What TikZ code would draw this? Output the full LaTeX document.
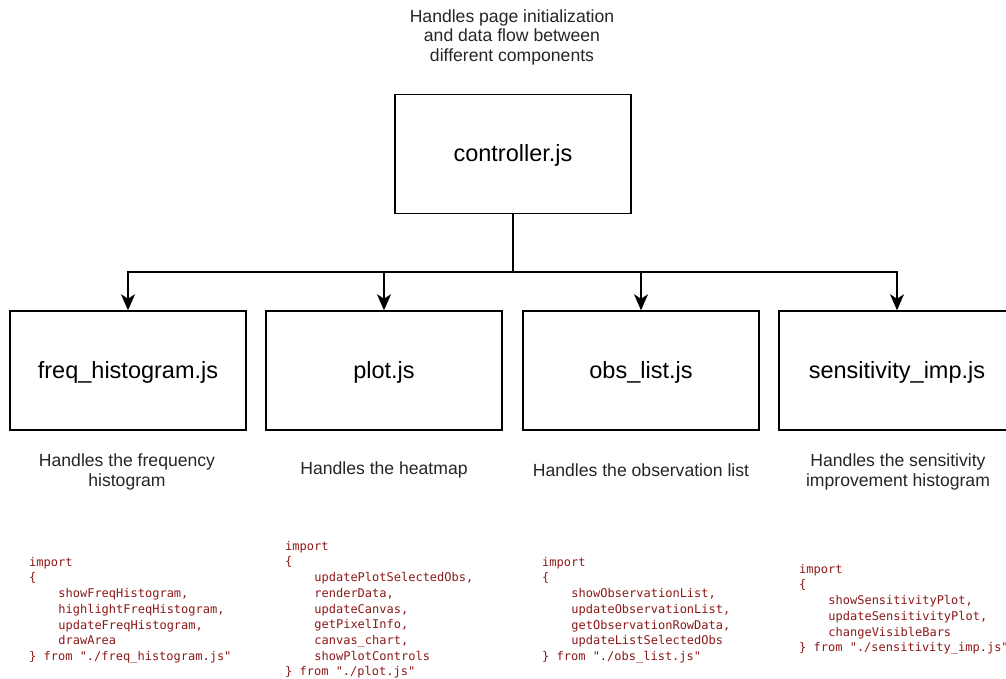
\documentclass[tikz,border=0pt]{standalone}
\usepackage{fontspec}
\setmainfont{Liberation Sans}
\newfontfamily\codefont{DejaVu Sans Mono}
\usetikzlibrary{arrows.meta}
\definecolor{codered}{RGB}{140,25,25}
\newcommand\ind{\hspace*{29.2pt}}
\begin{document}
\begin{tikzpicture}[x=1pt,y=-1pt,
  modbox/.style={draw=black,line width=1.5pt,minimum width=236pt,minimum height=119pt,inner sep=0pt,text height=18pt,text depth=2pt,font=\fontsize{23.5}{28}\selectfont},
  note/.style={align=center,inner sep=0pt,font=\fontsize{17.6}{19.5}\selectfont,text=black!85},
  code/.style={align=left,anchor=north west,inner sep=0pt,text=codered,font=\codefont\fontsize{12}{15.67}\selectfont},
  link/.style={line width=1.5pt},
  arr/.style={link,-{Stealth[length=16pt,width=14pt,inset=4.5pt]}}]
\useasboundingbox[fill=white] (0,0) rectangle (1006,679);
\node[note] (top) at (512,37) {Handles page initialization\\and data flow between\\different components};
\node[modbox] (ctrl) at (513,154) {controller.js};
\node[modbox] (b1) at (128,370.5) {freq\_histogram.js};
\node[modbox] (b2) at (384,370.5) {plot.js};
\node[modbox] (b3) at (641,370.5) {obs\_list.js};
\node[modbox] (b4) at (897,370.5) {sensitivity\_imp.js};
\coordinate (bus) at (513,272);
\draw[link] (ctrl.south) -- (bus);
\draw[arr] (bus) -| (b1.north);
\draw[arr] (bus) -| (b2.north);
\draw[arr] (bus) -| (b3.north);
\draw[arr] (bus) -| (b4.north);
\node[note] (n1) at (127,472) {Handles the frequency\\histogram};
\node[note] (n2) at (384,470) {Handles the heatmap};
\node[note] (n3) at (641,470) {Handles the observation list};
\node[note] (n4) at (898,472) {Handles the sensitivity\\improvement histogram};
\node[code] (c1) at (29,557) {import\\\{\\\ind showFreqHistogram,\\\ind highlightFreqHistogram,\\\ind updateFreqHistogram,\\\ind drawArea\\\} from "./freq\_histogram.js"};
\node[code] (c2) at (285,541) {import\\\{\\\ind updatePlotSelectedObs,\\\ind renderData,\\\ind updateCanvas,\\\ind getPixelInfo,\\\ind canvas\_chart,\\\ind showPlotControls\\\} from "./plot.js"};
\node[code] (c3) at (542,557) {import\\\{\\\ind showObservationList,\\\ind updateObservationList,\\\ind getObservationRowData,\\\ind updateListSelectedObs\\\} from "./obs\_list.js"};
\node[code] (c4) at (799,564) {import\\\{\\\ind showSensitivityPlot,\\\ind updateSensitivityPlot,\\\ind changeVisibleBars\\\} from "./sensitivity\_imp.js"};
\end{tikzpicture}
\end{document}
